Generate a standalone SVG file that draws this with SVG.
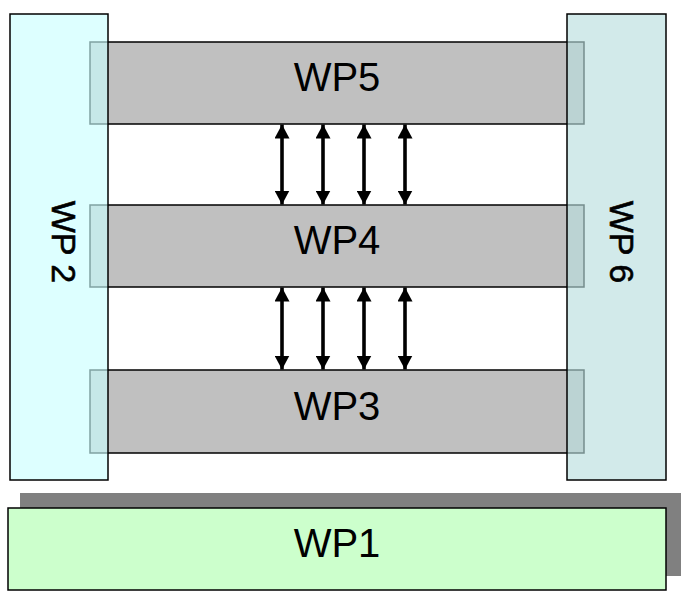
<svg xmlns="http://www.w3.org/2000/svg" width="688" height="597" viewBox="0 0 688 597">
<defs>
<style>
.bar{fill:#C0C0C0;stroke:#000;stroke-width:1.5}
.side{stroke:#000;stroke-width:1.5}
.lbl{font-family:"Liberation Sans",Arial,sans-serif;font-size:40px;fill:#000;text-anchor:middle}
.vl{font-family:"Liberation Sans",Arial,sans-serif;font-size:34px;fill:#000;text-anchor:middle;stroke:#000;stroke-width:0.6}
.arr{stroke:#000;stroke-width:3.6;fill:none;marker-start:url(#ah);marker-end:url(#ah)}
</style>
<marker id="ah" viewBox="0 0 14 15" refX="14" refY="7.5" markerWidth="14" markerHeight="15" markerUnits="userSpaceOnUse" orient="auto-start-reverse">
<path d="M0,0 L14,7.5 L0,15 Z" fill="#000"/>
</marker>
</defs>
<g id="WP1">
<rect x="20" y="493" width="661" height="83" fill="#808080"/>
<rect x="8" y="508" width="658" height="82" fill="#CCFFCC" stroke="#000" stroke-width="1.5"/>
<text class="lbl" x="337" y="557">WP1</text>
</g>
<g id="WP5">
<rect class="bar" x="90" y="42" width="494" height="82"/>
<text class="lbl" x="337" y="91">WP5</text>
</g>
<g id="WP4">
<rect class="bar" x="90" y="205" width="494" height="82"/>
<text class="lbl" x="337" y="254">WP4</text>
</g>
<g id="WP3">
<rect class="bar" x="90" y="370" width="494" height="83"/>
<text class="lbl" x="337" y="420">WP3</text>
</g>
<g id="WP2">
<rect class="side" x="10" y="14" width="98" height="466" fill="rgba(201,255,255,0.635)"/>
<text class="vl" transform="translate(52,242) rotate(90)">WP 2</text>
</g>
<g id="WP6">
<rect class="side" x="567" y="14" width="99" height="466" fill="rgba(184,222,222,0.635)"/>
<text class="vl" transform="translate(610,242) rotate(90)">WP 6</text>
</g>
<g id="connectors">
<line class="arr" x1="282" y1="124.5" x2="282" y2="204.5"/>
<line class="arr" x1="323" y1="124.5" x2="323" y2="204.5"/>
<line class="arr" x1="364" y1="124.5" x2="364" y2="204.5"/>
<line class="arr" x1="405" y1="124.5" x2="405" y2="204.5"/>
<line class="arr" x1="282" y1="287.5" x2="282" y2="369.5"/>
<line class="arr" x1="323" y1="287.5" x2="323" y2="369.5"/>
<line class="arr" x1="364" y1="287.5" x2="364" y2="369.5"/>
<line class="arr" x1="405" y1="287.5" x2="405" y2="369.5"/>
</g>
</svg>
